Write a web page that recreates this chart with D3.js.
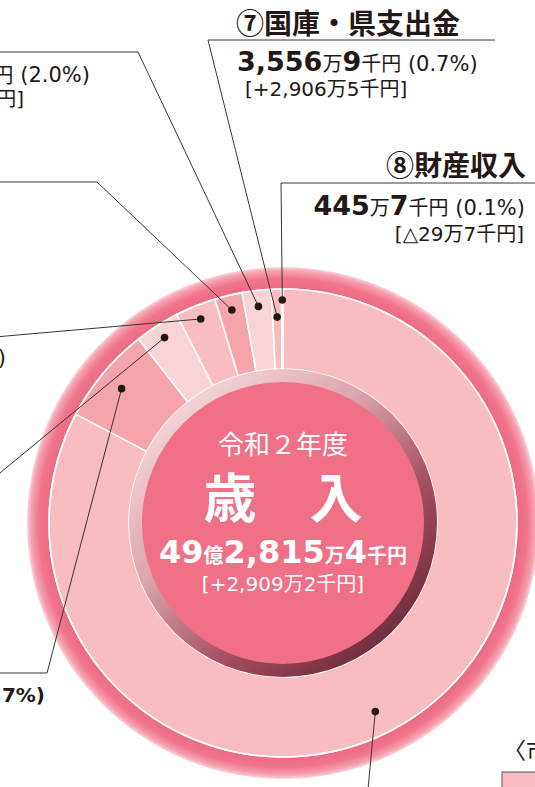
<!DOCTYPE html>
<html>
<head>
<meta charset="utf-8">
<script src="https://cdn.jsdelivr.net/npm/d3@7"></script>
<style>
  body { margin: 0; background: #fff; }
  svg { display: block; }
</style>
</head>
<body>
<div class="chart"></div>
<script>
// Shares of the revenue (%), clockwise from 12 o'clock: ① ... ⑧
const shares = [82.7, 6.7, 3.1, 2.8, 1.9, 2.0, 0.7, 0.1];
const segNo = ["①", "②", "③", "④", "⑤", "⑥", "⑦", "⑧"];
// light / mid / dark pink cycle used in the print
const segFill = ["#f8bcc1", "#f5a4ac", "#f9d3d6", "#f8bcc1", "#f5a4ac", "#f9d3d6", "#f8bcc1", "#f5a4ac"];

// label texts that are visible in the crop
const names = { 7: "国庫・県支出金", 8: "財産収入" };
const amountMan = { 7: "3,556", 8: "445" };
const amountSen = { 7: "9", 8: "7" };
const diffs = { 7: "[+2,906万5千円]", 8: "[△29万7千円]" };

// total
const totalOku = "49", totalMan = "2,815", totalSen = "4";
const totalDiff = "[+2,909万2千円]";

const width = 535, height = 787;
const cx = 283, cy = 523;
const rOuter = 256, rSeg = 234, rIn = 154, rCore = 141;

const font = "'DejaVu Sans', 'Noto Sans CJK JP', sans-serif";
const jpFont = "'Noto Sans CJK JP', sans-serif";
const ink = "#231815";

const svg = d3.select("div.chart")
    .append("svg")
    .attr("width", width)
    .attr("height", height)
    .attr("font-family", font);

svg.append("rect").attr("width", width).attr("height", height).attr("fill", "#fff");

const defs = svg.append("defs");

// soft outer ring (gradient is in the centred group's coordinates)
const rg = defs.append("radialGradient")
    .attr("id", "outerRing")
    .attr("gradientUnits", "userSpaceOnUse")
    .attr("cx", 0).attr("cy", 0).attr("r", rOuter);
[[0, "#ee6983"], [rSeg / rOuter, "#ee6983"], [0.955, "#f0768e"], [0.985, "#f5a2b1"], [1, "#fbd6dc"]]
    .forEach(s => rg.append("stop").attr("offset", s[0]).attr("stop-color", s[1]));

// inner bevel ring, light top-left to dark bottom-right
const lg = defs.append("linearGradient")
    .attr("id", "bevel")
    .attr("x1", 0.15).attr("y1", 0.1).attr("x2", 0.85).attr("y2", 0.9);
[[0, "#f4d6d9"], [0.35, "#dca6ae"], [0.7, "#a44c60"], [1, "#6e2c3c"]]
    .forEach(s => lg.append("stop").attr("offset", s[0]).attr("stop-color", s[1]));

const g = svg.append("g").attr("transform", `translate(${cx},${cy})`);

g.append("circle").attr("r", rOuter).attr("fill", "url(#outerRing)");

const pie = d3.pie().sort(null).value(d => d)(shares);
const arc = d3.arc().innerRadius(rIn).outerRadius(rSeg);

g.append("g")
  .selectAll("path")
  .data(pie)
  .join("path")
    .attr("d", arc)
    .attr("fill", (d, i) => segFill[i])
    .attr("stroke", "#fff")
    .attr("stroke-width", 1.6);

g.append("circle").attr("r", rSeg).attr("fill", "none").attr("stroke", "#fff").attr("stroke-width", 1.6);

g.append("circle").attr("r", rIn).attr("fill", "url(#bevel)");
g.append("circle").attr("r", rCore).attr("fill", "#f07087");

// leader lines: dot position inside the slice, then elbows out to the labels
const dotFrac = [0.517, 0.5, 0.5, 0.5, 0.5, 0.5, 0.5, 0.5];
const dotR = [210, 210, 220, 220, 219, 218, 206, 223];
const elbows = [
    [[367, 800]],
    [[47, 673], [-5, 673]],
    [[-5, 477]],
    [[-5, 337]],
    [[97, 182], [-5, 182]],
    [[138, 52], [-5, 52]],
    [[208, 40], [495, 40]],
    [[281, 183], [540, 183]]
];

const dots = pie.map((d, i) => {
    const a = d.startAngle + (d.endAngle - d.startAngle) * dotFrac[i];
    return [cx + dotR[i] * Math.sin(a), cy - dotR[i] * Math.cos(a)];
});

svg.append("g")
  .selectAll("path")
  .data(dots)
  .join("path")
    .attr("d", (p, i) => d3.line()([p, ...elbows[i]]))
    .attr("fill", "none")
    .attr("stroke", "#3a3535")
    .attr("stroke-width", 1);

svg.append("g")
  .selectAll("circle")
  .data(dots)
  .join("circle")
    .attr("cx", p => p[0])
    .attr("cy", p => p[1])
    .attr("r", 3.8)
    .attr("fill", "#231815");

// mixed-size text helper
function rich(x, y, anchor, parts, fill, family) {
    const t = svg.append("text")
        .attr("x", x).attr("y", y)
        .attr("text-anchor", anchor)
        .attr("fill", fill || ink);
    if (family) t.attr("font-family", family);
    parts.forEach(p => t.append("tspan")
        .attr("font-size", p[1])
        .attr("font-weight", p[2] || 400)
        .text(p[0]));
    return t;
}

// ⑦
rich(236, 34, "start", [[segNo[6] + names[7], 28, 700]], ink, jpFont);
rich(237, 71, "start", [[amountMan[7], 27, 700], ["万", 20], [amountSen[7], 27, 700], ["千円", 20], [` (${shares[6].toFixed(1)}%)`, 21]]);
rich(245, 96, "start", [[diffs[7], 20]]);

// ⑧
rich(526, 176, "end", [[segNo[7] + names[8], 28, 700]], ink, jpFont);
rich(525, 215, "end", [[amountMan[8], 27, 700], ["万", 20], [amountSen[8], 27, 700], ["千円", 20], [` (${shares[7].toFixed(1)}%)`, 21]]);
rich(524, 241, "end", [[diffs[8], 20]]);

// ⑥, ④, ② cut off at the left edge
rich(90, 82, "end", [[`円 (${shares[5].toFixed(1)}%)`, 21]]);
rich(24, 106, "end", [["円]", 20]]);
rich(6, 365, "end", [[")", 21]]);
rich(45, 702, "end", [[`${shares[1].toFixed(1)}%)`.slice(1), 20, 700]]);

// legend heading cut off at the bottom right
rich(503, 759, "start", [["〈市", 23]], ink, jpFont);
svg.append("rect")
    .attr("x", 502).attr("y", 772).attr("width", 60).attr("height", 30)
    .attr("fill", segFill[0]).attr("stroke", "#555").attr("stroke-width", 1);

// centre
rich(cx, 454, "middle", [["令和２年度", 26]], "#fff", jpFont);
rich(cx, 518, "middle", [["歳　入", 53, 700]], "#fff", jpFont);
rich(cx, 563, "middle", [[totalOku, 32, 700], ["億", 20, 700], [totalMan, 32, 700], ["万", 20, 700], [totalSen, 32, 700], ["千円", 20, 700]], "#fff");
rich(cx, 591, "middle", [[totalDiff, 20]], "#fff");
</script>
</body>
</html>
